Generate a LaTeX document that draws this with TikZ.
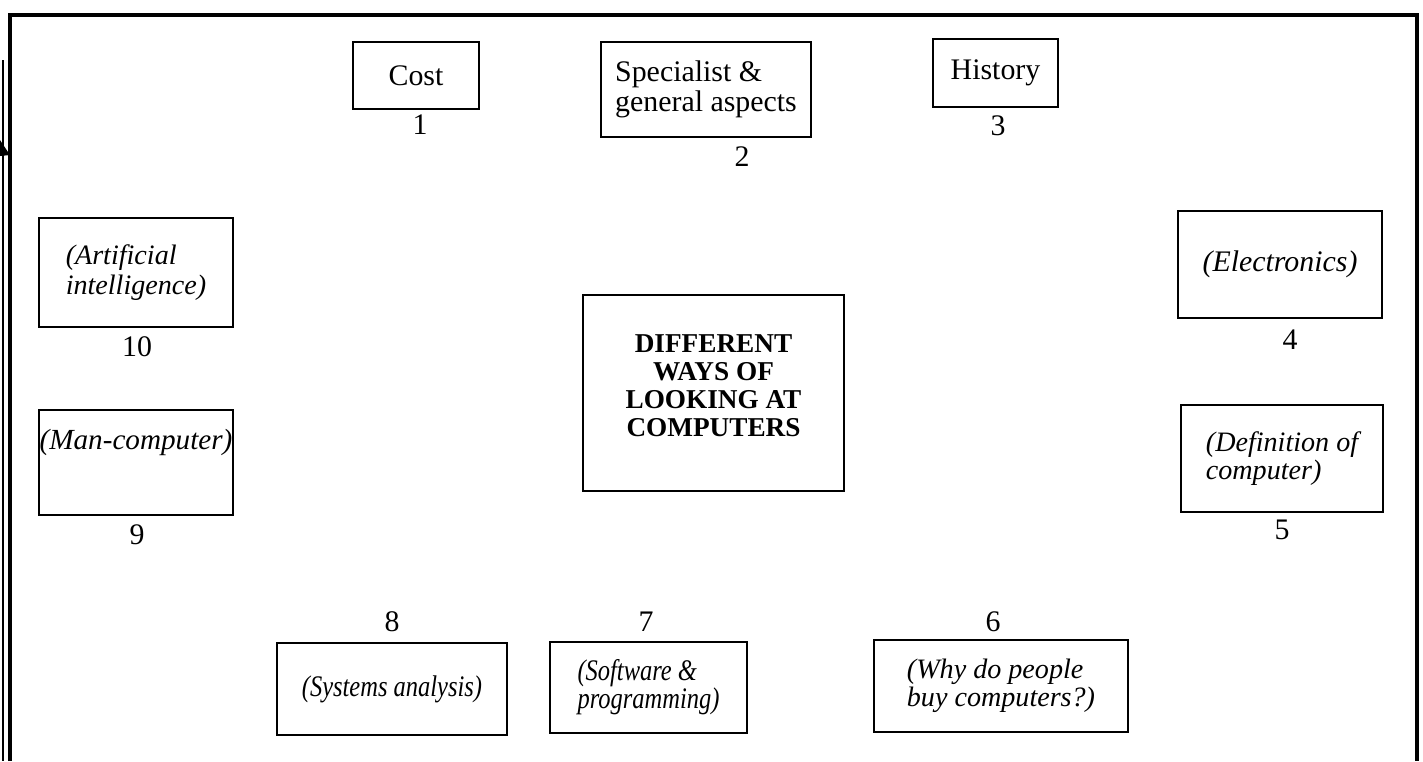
\documentclass[tikz,border=0pt]{standalone}
\usepackage{fontspec}
\setmainfont{Liberation Serif}
\newfontfamily\narrowserif[FakeStretch=0.82]{Liberation Serif}
\tikzset{
  topic/.style={draw=black, line width=1.1pt, inner sep=2pt, align=left, font=\fontsize{17}{17}\selectfont},
  topicit/.style={topic, font=\fontsize{16}{16}\selectfont\itshape},
  topicsm/.style={topic, font=\narrowserif\fontsize{17}{16}\selectfont\itshape},
  hub/.style={topic, align=center, font=\fontsize{15.5}{16}\selectfont\bfseries},
  numlabel/.style={inner sep=0pt, font=\fontsize{17}{17}\selectfont},
  frame/.style={line width=1.8pt, draw=black, line join=miter},
}

\begin{document}
\begin{tikzpicture}[x=0.02cm, y=-0.02cm]
\useasboundingbox (0,0) rectangle (1423,761);
% page frame
\draw[frame] (10,761) -- (10,15) -- (1417,15) -- (1417,761);
\draw[line width=0.6pt] (3,60) -- (3,761);
\fill (0,140) -- (10,155) -- (0,156) -- cycle;
% centre
\node[hub, minimum width=5.22cm, minimum height=3.92cm, text depth=0.3cm] (centre) at (713.5,393) {DIFFERENT\\WAYS OF\\LOOKING AT\\COMPUTERS};
% top row
\node[topic, minimum width=2.52cm, minimum height=1.34cm, align=center] (cost) at (416,75.5) {Cost};
\node[numlabel] (n1) at (420,125) {1};
\node[topic, minimum width=4.20cm, minimum height=1.90cm] (aspects) at (706,89.5) {Specialist \&\\general aspects};
\node[numlabel] (n2) at (742,157) {2};
\node[topic, minimum width=2.50cm, minimum height=1.36cm, align=center] (history) at (995.5,73) {History};
\node[numlabel] (n3) at (998,126) {3};
% right column
\node[topicit, minimum width=4.08cm, minimum height=2.14cm, font=\fontsize{17}{17}\selectfont\itshape] (electronics) at (1280,264.5) {(Electronics)};
\node[numlabel] (n4) at (1290,340) {4};
\node[topicit, minimum width=4.04cm, minimum height=2.14cm] (definition) at (1282,458.5) {(Definition of\\computer)};
\node[numlabel] (n5) at (1282,530) {5};
% bottom row
\node[topicit, minimum width=5.08cm, minimum height=1.84cm] (whybuy) at (1001,686) {(Why do people\\buy computers?)};
\node[numlabel] (n6) at (993,622) {6};
\node[topicsm, minimum width=3.94cm, minimum height=1.82cm] (software) at (648.5,687.5) {(Software \&\\programming)};
\node[numlabel] (n7) at (646,622) {7};
\node[topicsm, minimum width=4.60cm, minimum height=1.84cm] (sysanalysis) at (392,689) {(Systems analysis)};
\node[numlabel] (n8) at (392,622) {8};
% left column
\node[topicit, minimum width=3.88cm, minimum height=2.10cm, inner xsep=0pt, text depth=0.93cm, font=\fontsize{16.6}{17}\selectfont\itshape] (mancomp) at (136,462.5) {(Man-computer)};
\node[numlabel] (n9) at (137,535) {9};
\node[topicit, minimum width=3.88cm, minimum height=2.18cm, font=\fontsize{16}{17}\selectfont\itshape] (ai) at (136,272.5) {(Artificial\\intelligence)};
\node[numlabel] (n10) at (137,347) {10};
\end{tikzpicture}
\end{document}
